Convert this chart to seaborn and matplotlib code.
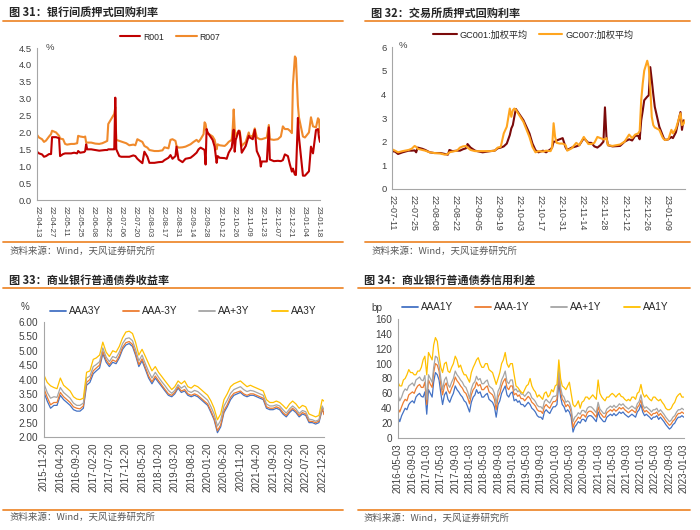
import numpy as np
import pandas as pd
import matplotlib
matplotlib.use('Agg')
import matplotlib.pyplot as plt
import matplotlib.dates as mdates
from matplotlib.lines import Line2D
import seaborn as sns

# ---------------- data: 图31 银行间质押式回购利率 ----------------
P1_DATES = ['2022-04-13','2022-04-15','2022-04-18','2022-04-20','2022-04-22','2022-04-25','2022-04-27','2022-04-28',
            '2022-05-02','2022-05-05','2022-05-06','2022-05-09','2022-05-11','2022-05-13','2022-05-17','2022-05-20',
            '2022-05-23','2022-05-24','2022-05-26','2022-05-30','2022-05-31','2022-06-01','2022-06-02','2022-06-06',
            '2022-06-10','2022-06-14','2022-06-17','2022-06-20','2022-06-22','2022-06-23','2022-06-26','2022-06-28',
            '2022-06-29','2022-06-30','2022-07-01','2022-07-04','2022-07-06','2022-07-11','2022-07-14','2022-07-18',
            '2022-07-20','2022-07-22','2022-07-25','2022-07-27','2022-07-29','2022-08-01','2022-08-03','2022-08-08',
            '2022-08-12','2022-08-16','2022-08-18','2022-08-22','2022-08-24','2022-08-26','2022-08-29','2022-08-30',
            '2022-09-01','2022-09-05','2022-09-08','2022-09-13','2022-09-16','2022-09-19','2022-09-21','2022-09-23',
            '2022-09-26','2022-09-27','2022-09-28','2022-09-29','2022-09-30','2022-10-05','2022-10-07','2022-10-09',
            '2022-10-10','2022-10-12','2022-10-17','2022-10-19','2022-10-21','2022-10-24','2022-10-25','2022-10-26',
            '2022-10-27','2022-10-28','2022-10-31','2022-11-01','2022-11-03','2022-11-07','2022-11-10','2022-11-11',
            '2022-11-14','2022-11-16','2022-11-18','2022-11-21','2022-11-22','2022-11-23','2022-11-28','2022-11-30',
            '2022-12-01','2022-12-05','2022-12-09','2022-12-12','2022-12-14','2022-12-16','2022-12-19','2022-12-21',
            '2022-12-23','2022-12-24','2022-12-26','2022-12-27','2022-12-29','2022-12-30','2023-01-03','2023-01-05',
            '2023-01-09','2023-01-11','2023-01-13','2023-01-16','2023-01-18','2023-01-19','2023-01-20']
R001 = [1.43,1.38,1.35,1.28,1.30,1.36,1.36,1.86,1.86,1.83,1.30,1.36,1.38,1.38,1.38,1.40,
        1.38,1.45,1.40,1.42,1.45,1.65,1.50,1.50,1.48,1.46,1.47,1.48,1.48,1.50,1.50,1.50,
        1.50,3.03,1.50,1.30,1.28,1.28,1.28,1.32,1.30,1.22,1.14,1.09,1.43,1.28,1.10,1.10,
        1.12,1.13,1.18,1.25,1.33,1.22,1.30,1.58,1.20,1.12,1.22,1.25,1.32,1.40,1.50,1.55,
        1.50,1.48,1.05,2.10,2.00,1.78,1.58,1.10,1.30,1.25,1.24,1.22,1.40,1.55,1.80,2.08,
        1.43,1.78,2.05,2.00,1.40,1.60,1.90,1.85,1.80,2.08,1.45,1.25,0.99,1.14,1.14,2.15,
        1.20,1.15,1.16,1.15,1.18,1.35,1.30,1.05,0.84,0.93,0.75,0.74,2.43,1.87,0.72,0.72,
        0.85,1.58,1.38,2.07,2.10,1.85,1.72]
R007 = [1.93,1.85,1.80,1.72,1.76,1.88,1.95,2.05,2.00,1.90,1.82,1.80,1.66,1.64,1.66,1.66,
        1.68,1.90,1.88,1.86,1.88,1.70,1.70,1.70,1.67,1.66,1.68,1.72,1.75,2.25,2.40,2.50,
        2.55,2.75,1.78,1.75,1.73,1.68,1.62,1.64,1.62,1.80,1.75,1.72,1.60,1.55,1.48,1.45,
        1.45,1.47,1.56,1.53,1.78,1.80,1.75,1.60,1.55,1.56,1.58,1.65,1.72,1.78,1.72,1.80,
        1.95,2.30,2.25,2.05,1.98,1.88,1.78,1.50,1.65,1.62,1.60,1.65,1.72,1.78,2.10,2.68,
        2.10,1.90,2.05,2.05,1.60,1.72,2.00,1.88,1.90,2.12,1.85,1.80,1.80,1.80,1.85,2.22,
        1.80,1.78,1.80,1.88,2.18,2.10,2.10,2.05,1.98,3.40,4.25,4.20,2.80,2.45,1.88,1.85,
        2.00,2.45,2.18,2.15,2.42,2.38,2.00]
P1_TICKS = ['2022-04-13','2023-01-18']  # every 14 days between

# ---------------- data: 图32 交易所质押式回购利率 ----------------
P2_DATES = ['2022-07-11','2022-07-13','2022-07-15','2022-07-18','2022-07-22','2022-07-24','2022-07-26','2022-07-27',
            '2022-07-28','2022-07-31','2022-08-02','2022-08-05','2022-08-08','2022-08-12','2022-08-15','2022-08-17',
            '2022-08-18','2022-08-20','2022-08-23','2022-08-25','2022-08-27','2022-08-29','2022-08-30','2022-09-01',
            '2022-09-04','2022-09-09','2022-09-14','2022-09-17','2022-09-19','2022-09-21','2022-09-23','2022-09-25',
            '2022-09-27','2022-09-28','2022-09-29','2022-09-30','2022-10-01','2022-10-06','2022-10-10','2022-10-12',
            '2022-10-14','2022-10-16','2022-10-19','2022-10-21','2022-10-24','2022-10-25','2022-10-26','2022-10-27',
            '2022-10-28','2022-10-30','2022-11-01','2022-11-03','2022-11-04','2022-11-07','2022-11-10','2022-11-12',
            '2022-11-15','2022-11-18','2022-11-20','2022-11-22','2022-11-24','2022-11-26','2022-11-28','2022-11-29',
            '2022-11-30','2022-12-01','2022-12-04','2022-12-09','2022-12-12','2022-12-15','2022-12-17','2022-12-19',
            '2022-12-21','2022-12-22','2022-12-23','2022-12-24','2022-12-25','2022-12-27','2022-12-28','2022-12-29',
            '2022-12-30','2022-12-31','2023-01-01','2023-01-04','2023-01-06','2023-01-07','2023-01-08','2023-01-10',
            '2023-01-12','2023-01-13','2023-01-15','2023-01-18','2023-01-19','2023-01-20','2023-01-21']
GC001 = [1.60,1.58,1.48,1.55,1.62,1.62,1.63,1.55,1.75,1.70,1.65,1.55,1.52,1.52,1.48,1.45,
         1.65,1.60,1.62,1.62,1.68,1.72,1.90,1.75,1.62,1.55,1.60,1.62,1.72,1.75,1.80,1.92,
         2.28,2.56,2.70,3.05,3.38,2.91,2.35,1.92,1.64,1.55,1.62,1.55,1.68,1.75,2.00,2.00,
         2.05,2.10,2.15,1.75,1.65,1.75,1.80,1.85,2.15,1.95,1.95,1.80,1.75,1.85,2.00,3.45,
         2.20,1.85,1.80,1.82,2.00,2.10,2.05,2.25,2.25,2.10,2.90,3.30,3.75,3.90,3.96,5.15,
         4.60,4.00,3.47,2.63,2.30,2.14,2.07,2.10,2.20,2.15,2.40,3.25,2.50,2.90,2.85]
GC007 = [1.68,1.62,1.55,1.60,1.65,1.70,1.82,1.78,1.70,1.65,1.62,1.55,1.52,1.50,1.45,1.48,
         1.55,1.58,1.62,1.75,1.80,1.82,1.75,1.65,1.60,1.60,1.60,1.62,1.75,1.78,2.35,2.63,
         3.40,3.05,3.33,3.40,3.35,2.84,2.20,1.78,1.55,1.60,1.58,1.62,1.60,1.75,2.78,2.20,
         1.95,1.92,1.92,1.85,1.62,1.72,1.95,1.85,2.20,1.90,1.90,1.95,2.20,2.15,2.10,2.10,
         2.15,1.85,1.82,1.88,2.00,2.30,2.15,2.30,2.35,2.45,3.75,4.45,5.00,5.42,5.15,4.24,
         3.05,2.70,2.60,2.50,2.20,2.10,2.07,2.10,2.50,2.35,2.55,3.20,2.70,2.75,2.90]

# ---------------- data: 图33 商业银行普通债券收益率 (monthly, 20th) ----------------
AAA3Y = [3.55,3.25,3.00,3.10,3.10,3.45,3.30,3.20,3.10,2.95,2.90,2.90,3.00,3.80,3.90,4.20,
         4.30,4.40,4.90,4.60,4.45,4.60,4.55,4.75,5.05,5.20,5.25,5.15,4.85,4.45,4.65,4.35,
         4.05,3.85,4.05,3.90,3.75,3.60,3.45,3.40,3.50,3.70,3.55,3.60,3.45,3.40,3.45,3.40,
         3.30,3.20,3.10,2.85,2.60,2.15,2.35,2.85,3.05,3.30,3.45,3.50,3.55,3.45,3.40,3.45,
         3.45,3.40,3.35,3.30,3.00,2.95,2.95,3.00,2.95,2.80,2.70,2.85,2.95,2.85,2.70,2.80,
         2.75,2.50,2.50,2.45,2.50,2.95,2.85]
AAAm3Y = [3.68,3.38,3.12,3.20,3.20,3.55,3.40,3.30,3.20,3.05,3.00,2.98,3.08,3.90,4.00,4.30,
          4.40,4.50,4.98,4.68,4.52,4.68,4.62,4.82,5.12,5.28,5.32,5.22,4.92,4.52,4.72,4.42,
          4.12,3.92,4.12,3.96,3.80,3.65,3.50,3.45,3.55,3.75,3.60,3.65,3.50,3.45,3.50,3.45,
          3.35,3.25,3.15,2.90,2.65,2.22,2.42,2.92,3.12,3.38,3.52,3.56,3.60,3.50,3.45,3.50,
          3.50,3.45,3.40,3.35,3.05,3.00,3.00,3.05,3.00,2.85,2.75,2.90,3.00,2.90,2.75,2.85,
          2.80,2.55,2.54,2.50,2.55,3.00,2.78]
AApl3Y = [3.85,3.55,3.35,3.40,3.38,3.72,3.55,3.45,3.35,3.18,3.10,3.10,3.18,4.05,4.12,4.45,
          4.52,4.62,5.10,4.78,4.62,4.80,4.75,4.95,5.25,5.42,5.45,5.35,5.05,4.65,4.85,4.55,
          4.28,4.05,4.25,4.08,3.92,3.78,3.62,3.52,3.62,3.82,3.70,3.78,3.60,3.55,3.62,3.58,
          3.48,3.38,3.28,3.05,2.80,2.38,2.58,3.08,3.28,3.52,3.65,3.70,3.75,3.65,3.58,3.62,
          3.60,3.55,3.50,3.45,3.15,3.08,3.08,3.12,3.08,2.95,2.83,2.98,3.08,2.98,2.82,2.92,
          2.88,2.62,2.60,2.55,2.60,3.08,2.95]
AA3Y = [4.15,3.90,3.78,3.72,3.68,4.05,3.80,3.70,3.60,3.40,3.32,3.30,3.35,4.25,4.30,4.70,
        4.75,4.85,5.30,4.95,4.80,5.00,4.95,5.15,5.45,5.65,5.68,5.60,5.30,4.85,5.05,4.80,
        4.55,4.30,4.45,4.25,4.10,3.95,3.80,3.65,3.75,3.95,3.85,3.95,3.75,3.70,3.80,3.75,
        3.65,3.55,3.45,3.25,3.00,2.60,2.80,3.30,3.50,3.75,3.85,3.90,3.95,3.85,3.75,3.80,
        3.75,3.70,3.65,3.60,3.30,3.20,3.20,3.25,3.20,3.10,2.98,3.15,3.25,3.15,3.00,3.10,
        3.05,2.80,2.75,2.70,2.75,3.30,3.25]

# ---------------- data: 图34 商业银行普通债券信用利差 (semi-monthly, 3rd & 18th) ----------------
AAA1Y = [28,22,30,35,40,38,45,48,50,47,55,58,60,56,55,62,
         32,65,60,55,75,88,85,78,60,45,58,62,52,48,55,60,70,65,62,58,55,50,48,42,
         35,48,55,58,65,60,62,55,55,58,60,52,50,48,42,28,45,50,60,65,70,58,55,60,
         62,50,52,48,50,45,45,42,45,48,45,40,38,35,30,28,28,25,35,38,35,33,38,42,
         42,45,75,55,45,42,35,38,35,28,8,15,18,22,20,25,25,22,28,30,30,28,25,22,
         35,28,25,22,22,28,30,32,30,33,30,32,35,33,35,32,30,28,30,32,30,28,35,38,
         45,35,30,32,30,28,25,28,28,30,25,28,25,22,18,15,12,14,18,20,25,28,28,30,
         28]
AAAm1Y = [40,35,42,48,52,50,58,60,62,60,66,70,72,68,68,75,
          45,78,72,68,88,100,98,90,72,58,70,74,64,60,67,72,82,77,74,70,67,62,60,54,
          46,58,65,68,75,70,72,65,65,68,70,62,60,58,52,38,55,60,70,76,80,68,65,70,
          70,58,60,56,58,53,53,50,53,56,53,48,46,43,38,36,36,33,42,45,42,40,45,49,
          49,52,85,62,52,49,42,45,42,35,14,21,24,28,26,31,31,28,34,36,36,34,31,28,
          42,34,31,28,28,34,36,38,36,39,36,38,41,39,41,38,36,34,36,38,36,34,41,44,
          51,40,35,37,35,33,30,33,33,35,30,33,30,27,23,20,17,19,23,25,30,33,33,35,
          33]
AApl1Y = [58,50,55,62,66,64,70,72,74,70,78,80,82,78,77,84,
          52,85,80,75,95,110,108,98,80,65,78,82,72,68,75,80,90,85,82,78,75,70,68,62,
          53,66,73,76,83,78,80,73,73,76,78,70,68,66,60,46,63,68,78,83,90,76,73,78,
          78,64,66,62,64,59,59,56,59,62,60,54,52,49,44,42,42,39,49,52,49,47,52,56,
          56,58,95,68,58,55,48,50,48,40,22,28,30,34,32,37,37,34,40,42,42,40,37,34,
          48,39,36,33,33,39,41,43,41,44,41,43,46,44,46,43,41,39,41,43,41,39,46,49,
          58,45,40,42,40,38,35,38,38,40,35,38,35,32,28,25,22,24,28,30,35,38,38,40,
          38]
AA1Y = [75,70,70,78,80,85,92,88,88,85,85,90,90,95,105,110,
        85,115,110,105,125,135,130,110,95,88,100,102,90,88,95,100,110,105,95,98,90,85,85,80,
        75,88,95,100,105,108,100,95,95,100,100,92,90,88,80,72,80,88,100,105,115,100,95,100,
        100,85,70,68,65,62,60,65,70,72,80,70,65,62,55,58,55,52,60,62,55,58,65,62,
        70,72,105,80,70,68,65,70,75,60,45,42,45,50,40,48,50,55,55,52,55,58,55,52,
        78,60,55,52,50,55,55,58,60,58,55,58,60,56,55,52,50,52,50,55,55,52,60,62,
        72,60,55,58,55,52,50,55,55,52,50,52,48,45,40,38,38,40,45,48,55,58,60,55,
        55]

# ---------------- styling ----------------
sns.set_style('white')
plt.rcParams['font.family'] = ['Liberation Sans', 'Noto Sans CJK SC']
plt.rcParams['axes.unicode_minus'] = False

W, H = 700, 530
fig = plt.figure(figsize=(7, 5.3), dpi=100)

def rect(x0, y0, x1, y1):
    return [x0 / W, 1 - y1 / H, (x1 - x0) / W, (y1 - y0) / H]

def fx(x):
    return x / W

def fy(y):
    return 1 - y / H

RULE = '#EE8B33'
TXT = '#404040'
AX = '#A6A6A6'

def frame(title, src, x0, x1, ty, ry, by, sy):
    fig.text(fx(x0 + 6), fy(ty), title, fontsize=8.0, fontweight='bold', color='#262626',
             va='center', ha='left', family=['Noto Sans CJK SC'])
    fig.add_artist(Line2D([fx(x0), fx(x1)], [fy(ry), fy(ry)], color=RULE, lw=1.3))
    fig.add_artist(Line2D([fx(x0), fx(x1)], [fy(by), fy(by)], color=RULE, lw=1.3))
    fig.text(fx(x0 + 6), fy(sy), src, fontsize=6.8, color='#595959', va='center', ha='left',
             family=['Noto Sans CJK SC'])

def style(ax, xfs, yfs):
    sns.despine(ax=ax)
    for s in ['left', 'bottom']:
        ax.spines[s].set_color(AX)
        ax.spines[s].set_linewidth(0.8)
    ax.tick_params(axis='both', direction='out', length=2.5, width=0.6, color=AX,
                   labelcolor=TXT, pad=1.5)
    ax.tick_params(axis='x', labelsize=xfs)
    ax.tick_params(axis='y', labelsize=yfs)
    ax.grid(False)

def legend(ax, names, colors, lw, cx, cy, fs, hl, cs):
    handles = [Line2D([], [], color=c, lw=lw) for c in colors]
    ax.legend(handles, names, loc='center', bbox_to_anchor=(fx(cx), fy(cy)),
              bbox_transform=fig.transFigure, ncol=len(names), frameon=False,
              handlelength=hl, columnspacing=cs, handletextpad=0.3,
              borderpad=0, prop={'family': ['Liberation Sans', 'Noto Sans CJK SC'], 'size': fs})

SRC = '资料来源：Wind，天风证券研究所'

# ---------- panel 1 ----------
frame('图 31：银行间质押式回购利率', SRC, 3, 343, 12, 21, 242, 251)
ax1 = fig.add_axes(rect(37, 48, 320, 200))
d1 = pd.to_datetime(P1_DATES)
c1 = ['#C00000', '#F08A2C']
sns.lineplot(x=d1, y=R007, ax=ax1, color=c1[1], linewidth=1.5)
sns.lineplot(x=d1, y=R001, ax=ax1, color=c1[0], linewidth=1.5)
ax1.set_xlim(pd.Timestamp('2022-04-13'), pd.Timestamp('2023-01-20'))
ax1.set_ylim(0, 4.5)
ax1.set_yticks(np.arange(0, 4.51, 0.5))
ax1.yaxis.set_major_formatter(matplotlib.ticker.FormatStrFormatter('%.1f'))
ax1.set_xticks(pd.date_range(P1_TICKS[0], P1_TICKS[1], freq='14D'))
ax1.xaxis.set_major_formatter(mdates.DateFormatter('%y-%m-%d'))
style(ax1, 5.6, 6.8)
plt.setp(ax1.get_xticklabels(), rotation=270, ha='center', va='top')
ax1.set_xlabel('')
ax1.set_ylabel('')
fig.text(fx(50), fy(47), '%', fontsize=6.8, color=TXT, ha='center', va='center')
legend(ax1, ['R001', 'R007'], c1, 1.5, 170, 37, 6.2, 2.4, 1.5)

# ---------- panel 2 ----------
frame('图 32：交易所质押式回购利率', SRC, 365, 690, 13, 21, 242, 251)
ax2 = fig.add_axes(rect(392, 47, 685, 189))
d2 = pd.to_datetime(P2_DATES)
c2 = ['#7B0A0A', '#FFA51F']
sns.lineplot(x=d2, y=GC001, ax=ax2, color=c2[0], linewidth=1.5)
sns.lineplot(x=d2, y=GC007, ax=ax2, color=c2[1], linewidth=1.5)
ax2.set_xlim(pd.Timestamp('2022-07-11'), pd.Timestamp('2023-01-21'))
ax2.set_ylim(0, 6)
ax2.set_yticks(range(0, 7))
ax2.set_xticks(pd.date_range('2022-07-11', '2023-01-09', freq='14D'))
ax2.xaxis.set_major_formatter(mdates.DateFormatter('%y-%m-%d'))
style(ax2, 6.4, 6.8)
plt.setp(ax2.get_xticklabels(), rotation=270, ha='center', va='top')
ax2.set_xlabel('')
ax2.set_ylabel('')
fig.text(fx(403), fy(46), '%', fontsize=6.8, color=TXT, ha='center', va='center')
legend(ax2, ['GC001:加权平均', 'GC007:加权平均'], c2, 1.5, 533, 35, 6.6, 2.6, 1.2)

# ---------- panel 3 ----------
frame('图 33：商业银行普通债券收益率', SRC, 3, 343, 280, 288, 510, 517)
ax3 = fig.add_axes(rect(44, 322, 324, 437))
d3 = list(pd.date_range('2015-11-20', periods=86, freq=pd.DateOffset(months=1))) + [pd.Timestamp('2023-01-05')]
d3 = pd.DatetimeIndex(d3)
c34 = ['#4472C4', '#ED7D31', '#A5A5A5', '#FFC000']
for vals, c in zip([AAA3Y, AAAm3Y, AApl3Y, AA3Y], c34):
    sns.lineplot(x=d3, y=vals, ax=ax3, color=c, linewidth=0.9)
ax3.set_xlim(pd.Timestamp('2015-11-20'), pd.Timestamp('2023-01-06'))
ax3.set_ylim(2, 6)
ax3.set_yticks(np.arange(2, 6.01, 0.5))
ax3.yaxis.set_major_formatter(matplotlib.ticker.FormatStrFormatter('%.2f'))
ax3.set_xticks(pd.date_range('2015-11-20', periods=18, freq=pd.DateOffset(months=5)))
ax3.xaxis.set_major_formatter(mdates.DateFormatter('%Y-%m-%d'))
style(ax3, 7, 7.2)
plt.setp(ax3.get_xticklabels(), rotation=90, ha='center', va='top')
ax3.set_xlabel('')
ax3.set_ylabel('')
fig.text(fx(25), fy(307), '%', fontsize=7, color=TXT, ha='center', va='center')
legend(ax3, ['AAA3Y', 'AAA-3Y', 'AA+3Y', 'AA3Y'], c34, 1.3, 183, 311, 7.2, 1.6, 2.2)

# ---------- panel 4 ----------
frame('图 34：商业银行普通债券信用利差', SRC, 358, 690, 280, 288, 510, 518)
ax4 = fig.add_axes(rect(398, 319, 684, 438))
months4 = pd.date_range('2016-05-01', periods=81, freq='MS')
d4 = []
for m in months4:
    d4.append(m + pd.Timedelta(days=2))
    d4.append(m + pd.Timedelta(days=17))
d4 = pd.DatetimeIndex(d4[:len(AAA1Y)])
for vals, c in zip([AAA1Y, AAAm1Y, AApl1Y, AA1Y], c34):
    sns.lineplot(x=d4, y=vals, ax=ax4, color=c, linewidth=0.9)
ax4.set_xlim(pd.Timestamp('2016-05-03'), pd.Timestamp('2023-01-05'))
ax4.set_ylim(0, 160)
ax4.set_yticks(range(0, 161, 20))
ax4.set_xticks(pd.date_range('2016-05-03', periods=21, freq=pd.DateOffset(months=4)))
ax4.xaxis.set_major_formatter(mdates.DateFormatter('%Y-%m-%d'))
style(ax4, 7, 7.2)
plt.setp(ax4.get_xticklabels(), rotation=90, ha='center', va='top')
ax4.set_xlabel('')
ax4.set_ylabel('')
fig.text(fx(377), fy(308), 'bp', fontsize=7.2, color=TXT, ha='center', va='center')
legend(ax4, ['AAA1Y', 'AAA-1Y', 'AA+1Y', 'AA1Y'], c34, 1.3, 535, 307, 7.2, 1.6, 2.2)

fig.savefig('out.png', dpi=100)
